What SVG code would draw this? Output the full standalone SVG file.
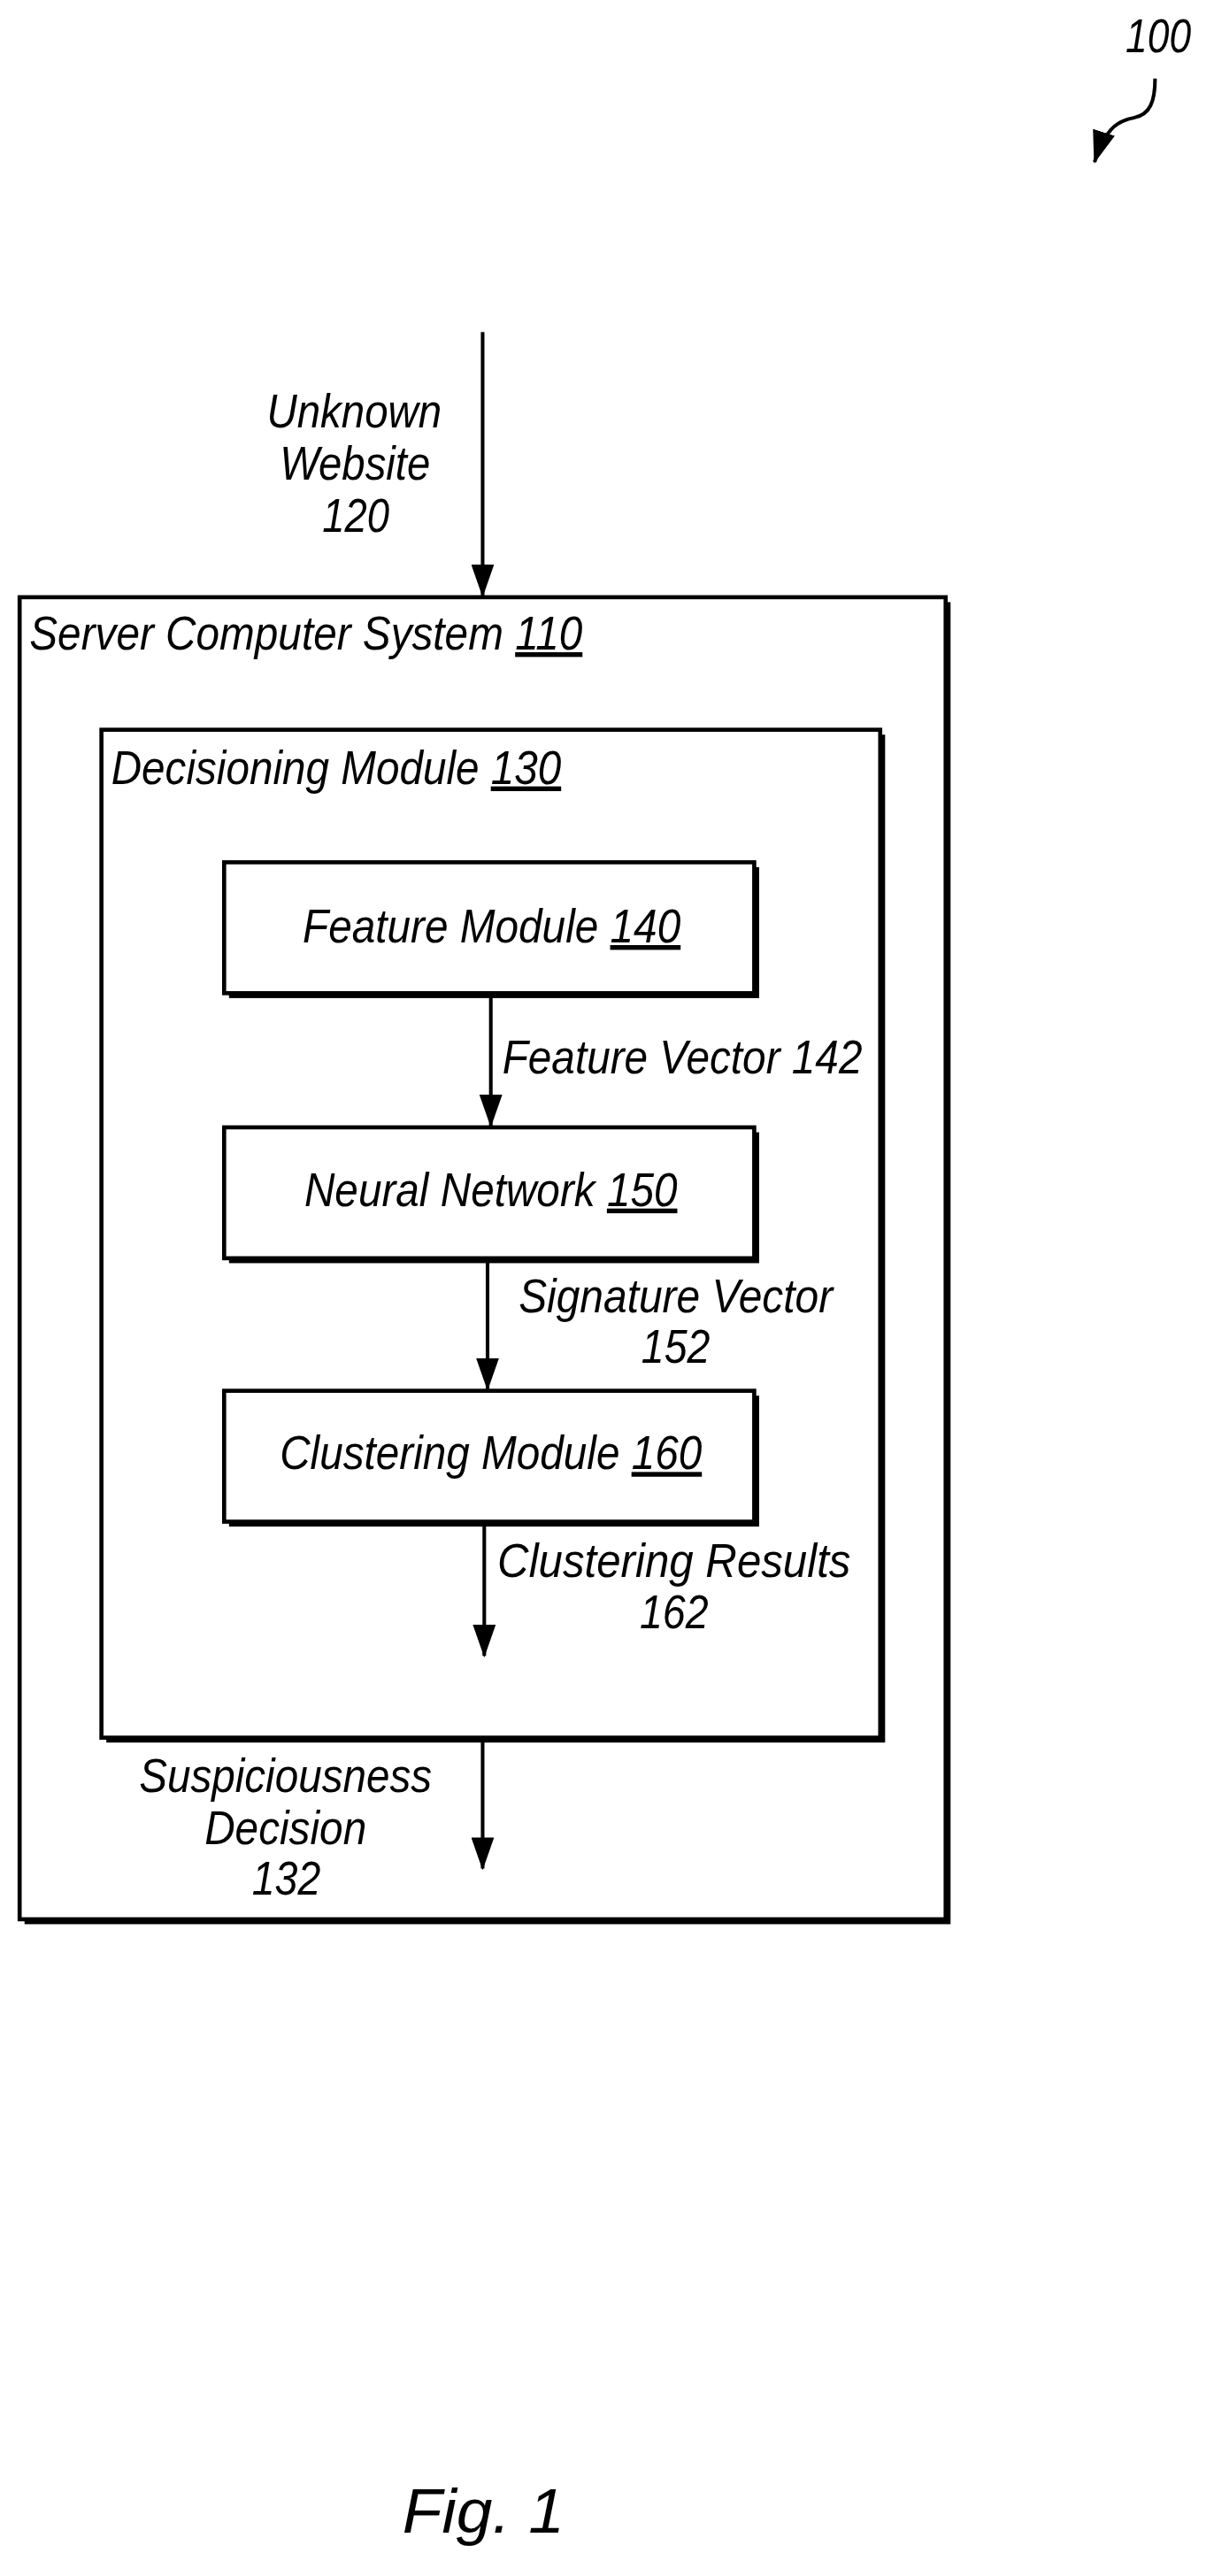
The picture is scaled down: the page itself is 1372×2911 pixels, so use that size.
<svg xmlns="http://www.w3.org/2000/svg" width="1372" height="2911" viewBox="0 0 1372 2911">
<style>
text{font-family:"Liberation Sans",Arial,sans-serif;font-style:italic;font-size:29px;fill:#000}
.box{fill:#fff;stroke:#000;stroke-width:2.5}
.sh{fill:#000}
.ln{stroke:#000;stroke-width:2.2;fill:none}
.u{text-decoration:underline}
</style>
<defs>
<marker id="ah" markerWidth="20" markerHeight="14" refX="19" refY="7" orient="auto" markerUnits="userSpaceOnUse" viewBox="0 0 20 14">
<path d="M0,0 L20,7 L0,14 Z" fill="#000"/>
</marker>
</defs>
<rect width="1372" height="2911" fill="#fff"/>
<g transform="scale(1.849)">
<g id="n110">
<rect class="sh" x="15" y="368" width="566" height="808"/>
<rect class="box" x="12" y="365" width="566" height="808"/>
<text x="18" y="397" textLength="338" lengthAdjust="spacingAndGlyphs">Server Computer System <tspan class="u">110</tspan></text>
</g>
<g id="n130">
<rect class="sh" x="65" y="449" width="476" height="616"/>
<rect class="box" x="62" y="446" width="476" height="616"/>
<text x="68" y="479" textLength="275" lengthAdjust="spacingAndGlyphs">Decisioning Module <tspan class="u">130</tspan></text>
</g>
<g id="n140">
<rect class="sh" x="140" y="530" width="324" height="80"/>
<rect class="box" x="137" y="527" width="324" height="80"/>
<text x="185" y="576" textLength="231" lengthAdjust="spacingAndGlyphs">Feature Module <tspan class="u">140</tspan></text>
</g>
<g id="n150">
<rect class="sh" x="140" y="692" width="324" height="80"/>
<rect class="box" x="137" y="689" width="324" height="80"/>
<text x="186" y="737" textLength="228" lengthAdjust="spacingAndGlyphs">Neural Network <tspan class="u">150</tspan></text>
</g>
<g id="n160">
<rect class="sh" x="140" y="853" width="324" height="80"/>
<rect class="box" x="137" y="850" width="324" height="80"/>
<text x="171" y="898" textLength="258" lengthAdjust="spacingAndGlyphs">Clustering Module <tspan class="u">160</tspan></text>
</g>
<g id="ref100">
<text x="688" y="32" textLength="40" lengthAdjust="spacingAndGlyphs">100</text>
<path class="ln" d="M706,48 C706,62 703,70 693,72 C682,74 675,80 669,99" stroke-width="3" marker-end="url(#ah)"/>
</g>
<g id="connectors">
<line class="ln" x1="295" y1="203" x2="295" y2="364" marker-end="url(#ah)"/>
<line class="ln" x1="300" y1="609" x2="300" y2="688" marker-end="url(#ah)"/>
<line class="ln" x1="298" y1="771" x2="298" y2="849" marker-end="url(#ah)"/>
<line class="ln" x1="296" y1="932" x2="296" y2="1012" marker-end="url(#ah)"/>
<line class="ln" x1="295" y1="1064" x2="295" y2="1142" marker-end="url(#ah)"/>
</g>
<g id="labels">
<text x="163" y="261" textLength="107" lengthAdjust="spacingAndGlyphs">Unknown</text>
<text x="171" y="293" textLength="92" lengthAdjust="spacingAndGlyphs">Website</text>
<text x="197" y="325" textLength="41" lengthAdjust="spacingAndGlyphs">120</text>
<text x="307" y="656" textLength="220" lengthAdjust="spacingAndGlyphs">Feature Vector 142</text>
<text x="317" y="802" textLength="192" lengthAdjust="spacingAndGlyphs">Signature Vector</text>
<text x="392" y="833" textLength="42" lengthAdjust="spacingAndGlyphs">152</text>
<text x="304" y="964" textLength="216" lengthAdjust="spacingAndGlyphs">Clustering  Results</text>
<text x="391" y="995" textLength="42" lengthAdjust="spacingAndGlyphs">162</text>
<text x="85" y="1095" textLength="179" lengthAdjust="spacingAndGlyphs">Suspiciousness</text>
<text x="125" y="1127" textLength="99" lengthAdjust="spacingAndGlyphs">Decision</text>
<text x="154" y="1158" textLength="42" lengthAdjust="spacingAndGlyphs">132</text>
<text x="246" y="1548" style="font-size:38px" textLength="99" lengthAdjust="spacingAndGlyphs">Fig. 1</text>
</g>
</g>
</svg>
